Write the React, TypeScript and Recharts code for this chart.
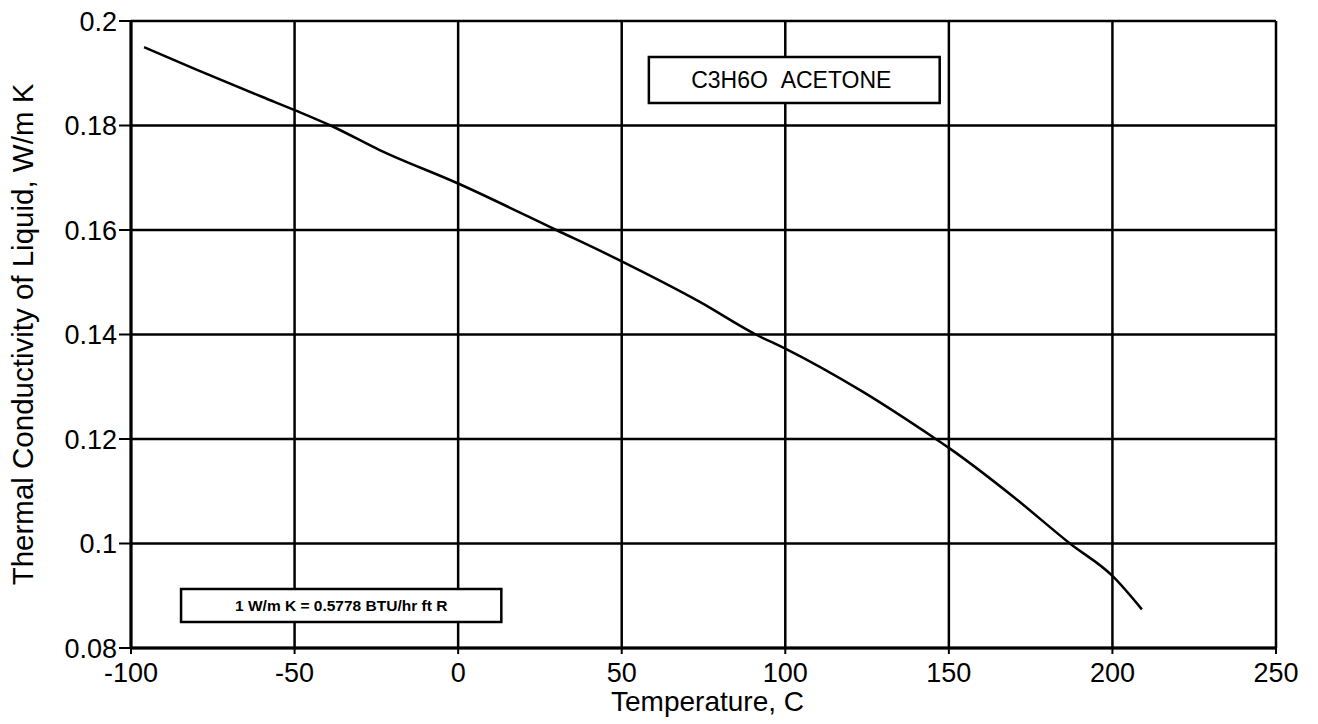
import React from "react";
import {
  LineChart,
  Line,
  XAxis,
  YAxis,
  CartesianGrid,
  ReferenceArea,
} from "recharts";

// Temperature, C
const temps = [-96, -80, -60, -49, -39, -24, 0, 30, 50, 74, 91, 100, 123, 146, 150, 170, 187, 200, 209];
// Thermal conductivity of liquid, W/m K
const conductivity = [
  0.195, 0.1907, 0.1855, 0.1827, 0.18, 0.1753, 0.1689, 0.16, 0.154, 0.1462, 0.14,
  0.1373, 0.1293, 0.12, 0.1183, 0.1088, 0.1, 0.0938, 0.0874,
];

const xTicks = [-100, -50, 0, 50, 100, 150, 200, 250];
const yTicks = [0.08, 0.1, 0.12, 0.14, 0.16, 0.18, 0.2];

const titleText = "C3H6O\u00a0\u00a0ACETONE";
const noteText = "1 W/m K = 0.5778 BTU/hr ft R";

const data = temps.map((t, i) => ({ t, k: conductivity[i] }));

const App: React.FC = () => {
  return (
    <div
      style={{
        position: "absolute",
        left: 0,
        top: 0,
        width: 1318,
        height: 724,
        background: "#fff",
        fontFamily: "'Liberation Sans', Arial, Helvetica, sans-serif",
      }}
    >
      <LineChart
        width={1318}
        height={724}
        data={data}
        margin={{ top: 21, right: 42, bottom: 0, left: 0 }}
      >
        <CartesianGrid stroke="#000" strokeWidth={2.5} />
        <XAxis
          dataKey="t"
          type="number"
          domain={[-100, 250]}
          ticks={xTicks}
          interval={0}
          height={76}
          tickSize={6}
          tickMargin={9}
          axisLine={{ stroke: "#000", strokeWidth: 3 }}
          tickLine={{ stroke: "#000", strokeWidth: 2 }}
          tick={{ fill: "#000", fontSize: 27 }}
          label={{
            value: "Temperature, C",
            position: "insideBottom",
            offset: 13,
            fill: "#000",
            fontSize: 28,
            dx: 4,
          }}
        />
        <YAxis
          type="number"
          domain={[0.08, 0.2]}
          ticks={yTicks}
          interval={0}
          width={131}
          tickSize={12}
          tickMargin={2}
          axisLine={{ stroke: "#000", strokeWidth: 3 }}
          tickLine={{ stroke: "#000", strokeWidth: 2 }}
          tick={{ fill: "#000", fontSize: 27 }}
          tickFormatter={(v: number) => String(v)}
          label={{
            value: "Thermal Conductivity of Liquid, W/m K",
            angle: -90,
            position: "insideLeft",
            offset: 23,
            fill: "#000",
            fontSize: 29.5,
            style: { textAnchor: "middle" },
          }}
        />
        <ReferenceArea
          x1={58.3}
          x2={147.2}
          y1={0.1843}
          y2={0.1931}
          fill="#fff"
          fillOpacity={1}
          stroke="#000"
          strokeWidth={2.5}
          label={{ value: titleText, position: "center", fill: "#000", fontSize: 23, dx: -3 }}
        />
        <ReferenceArea
          x1={-84.7}
          x2={13.2}
          y1={0.085}
          y2={0.0913}
          fill="#fff"
          fillOpacity={1}
          stroke="#000"
          strokeWidth={2.5}
          label={{
            value: noteText,
            position: "center",
            fill: "#000",
            fontSize: 15.5,
            fontWeight: "bold",
          }}
        />
        <Line
          dataKey="k"
          type="monotone"
          stroke="#000"
          strokeWidth={2.5}
          dot={false}
          isAnimationActive={false}
        />
      </LineChart>
    </div>
  );
};

export default App;
